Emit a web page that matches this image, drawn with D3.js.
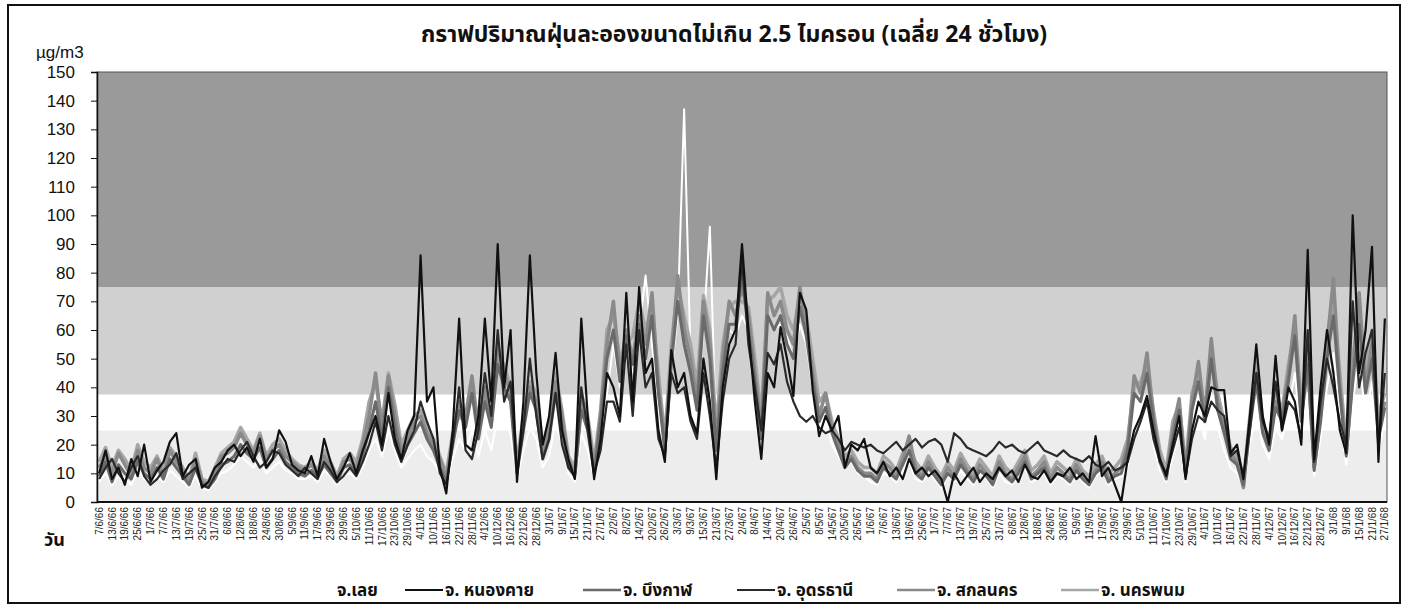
<!DOCTYPE html>
<html lang="th">
<head>
<meta charset="UTF-8">
<title>PM2.5 เฉลี่ย 24 ชั่วโมง</title>
<script src="https://cdn.jsdelivr.net/npm/d3@7"></script>
<style>
  body { margin: 0; background: #fff; }
  svg { display: block; font-family: "Noto Sans Thai", "Tahoma", "DejaVu Sans", sans-serif; }
</style>
</head>
<body>
<svg id="chart" width="1407" height="608"></svg>
<script>
// one point every 3 days starting 7 Jun 2023 (7/6/66)
const sampleStep = 3
const tickStep = 6

const tickLabels = [
  "7/6/66","13/6/66","19/6/66","25/6/66","1/7/66","7/7/66","13/7/66","19/7/66","25/7/66","31/7/66",
  "6/8/66","12/8/66","18/8/66","24/8/66","30/8/66","5/9/66","11/9/66","17/9/66","23/9/66","29/9/66",
  "5/10/66","11/10/66","17/10/66","23/10/66","29/10/66","4/11/66","10/11/66","16/11/66","22/11/66","28/11/66",
  "4/12/66","10/12/66","16/12/66","22/12/66","28/12/66","3/1/67","9/1/67","15/1/67","21/1/67","27/1/67",
  "2/2/67","8/2/67","14/2/67","20/2/67","26/2/67","3/3/67","9/3/67","15/3/67","21/3/67","27/3/67",
  "2/4/67","8/4/67","14/4/67","20/4/67","26/4/67","2/5/67","8/5/67","14/5/67","20/5/67","26/5/67",
  "1/6/67","7/6/67","13/6/67","19/6/67","25/6/67","1/7/67","7/7/67","13/7/67","19/7/67","25/7/67",
  "31/7/67","6/8/67","12/8/67","18/8/67","24/8/67","30/8/67","5/9/67","11/9/67","17/9/67","23/9/67",
  "29/9/67","5/10/67","11/10/67","17/10/67","23/10/67","29/10/67","4/11/67","10/11/67","16/11/67","22/11/67",
  "28/11/67","4/12/67","10/12/67","16/12/67","22/12/67","28/12/67","3/1/68","9/1/68","15/1/68","21/1/68",
  "27/1/68"
]

const yTicks = [0, 10, 20, 30, 40, 50, 60, 70, 80, 90, 100, 110, 120, 130, 140, 150]
const bandLimits = [0, 25, 37.5, 75, 150]

const provinces = ["จ.เลย", "จ. หนองคาย", "จ. บึงกาฬ", "จ. อุดรธานี", "จ. สกลนคร", "จ. นครพนม"]

const loei = [
  7,10,6,9,8,6,11,8,7,9, 7,11,9,7,5,9,5,4,7,10, 11,13,16,14,12,15,10,12,14,11, 10,8,8,9,7,11,9,6,9,10,
  8,12,18,22,16,25,18,12,15,18, 20,16,14,10,6,15,22,18,25,16, 25,18,30,28,24,8,18,26,22,12, 16,28,20,10,7,24,18,8,20,38,
  55,40,50,45,60,79,55,35,18,45, 65,137,50,30,60,96,20,45,60,58, 65,60,40,22,65,60,62,58,50,62, 55,40,25,30,20,16,12,14,10,9,
  7,6,10,9,7,11,14,8,7,10, 8,5,9,7,11,8,6,10,8,5, 10,7,6,9,12,7,8,10,6,9, 8,6,10,7,5,9,11,6,8,9,
  12,28,25,35,20,11,7,16,24,7, 24,32,22,38,26,18,12,10,5,20, 32,20,15,26,22,32,45,22,38,9, 22,40,52,30,13,35,50,30,42,18,28
]
const nongkhai = [
  10,18,8,12,6,15,9,20,7,11, 14,21,24,9,13,15,5,7,12,14, 18,20,16,19,14,22,12,15,25,21, 13,11,10,16,9,22,14,8,12,17,
  10,18,24,30,20,38,22,15,25,30, 86,35,40,12,3,25,64,20,18,30, 64,35,90,40,60,7,35,86,45,20, 30,52,25,15,8,64,30,8,22,45,
  40,30,73,35,75,45,50,25,14,53, 40,45,30,24,50,35,8,40,55,60, 90,60,35,15,45,40,61,50,37,73, 67,39,23,30,25,30,12,20,18,22,
  12,10,14,9,12,8,15,10,12,9, 11,8,0,10,6,9,12,7,10,8, 12,9,11,7,13,9,8,11,7,10, 9,12,8,10,7,23,9,12,6,0,
  15,25,30,37,25,15,9,20,30,8, 25,35,30,40,39,39,17,20,8,30, 55,30,20,51,25,40,35,20,88,15, 40,60,45,25,17,100,45,60,89,14,64
]
const buengkan = [
  9,14,7,13,10,8,14,10,8,12, 8,15,12,9,6,12,6,5,8,13, 14,16,20,17,15,19,12,15,18,14, 12,10,9,11,9,13,10,7,12,13,
  10,16,25,35,22,40,26,15,20,24, 28,22,18,12,7,20,32,26,38,22, 35,26,48,40,35,10,25,38,32,15, 22,38,26,12,9,32,25,10,28,50,
  60,42,58,48,62,50,65,38,18,48, 70,55,45,32,65,50,18,45,62,62, 80,60,42,22,65,60,65,55,50,68, 58,42,28,33,24,18,12,15,11,9,
  9,7,12,10,8,13,18,10,8,12, 9,6,10,8,13,10,7,11,9,6, 12,9,7,10,14,8,10,12,7,10, 9,7,11,8,6,10,12,7,9,10,
  18,38,35,45,28,14,8,22,32,9, 32,42,28,50,32,24,15,13,6,26, 42,24,18,33,28,42,58,28,48,11, 28,50,65,38,16,42,62,38,50,22,33
]
const udon = [
  8,12,15,10,7,12,16,9,6,8, 11,13,17,8,10,12,6,5,9,12, 15,14,18,21,16,12,14,18,17,13, 11,9,12,10,8,14,11,7,9,12,
  9,14,20,28,18,30,20,14,20,25, 35,28,22,10,6,20,40,18,15,25, 45,30,60,35,42,10,25,50,30,15, 22,38,20,12,9,40,25,10,18,35,
  35,28,55,30,60,40,45,22,16,45, 38,40,28,22,45,30,12,35,50,55, 85,55,40,25,52,48,55,42,35,30, 28,30,26,24,25,22,18,21,20,19,
  20,18,17,19,21,18,20,22,19,21, 22,20,14,24,22,19,18,17,16,18, 21,19,20,18,17,19,21,18,17,16, 18,16,15,14,16,13,12,14,11,12,
  14,22,28,35,22,14,10,18,26,9, 22,30,28,35,32,30,16,18,9,25, 45,28,22,42,25,35,32,22,60,14, 35,50,40,28,20,70,40,52,60,18,45
]
const sakon = [
  12,16,10,17,13,9,18,12,10,15, 9,18,14,11,7,15,7,6,10,16, 17,19,24,20,17,23,15,18,20,16, 14,12,11,13,10,16,12,8,14,15,
  12,20,30,45,25,44,30,18,22,28, 30,24,20,15,8,22,35,30,44,25, 40,28,55,45,38,12,28,40,35,18, 25,42,30,14,10,35,28,12,30,55,
  70,45,60,50,65,55,73,40,20,50, 79,60,50,35,70,55,20,50,70,65, 75,65,45,25,73,65,70,60,55,75, 60,45,30,38,25,20,14,16,12,10,
  10,8,14,12,9,15,23,12,9,14, 10,7,12,9,15,11,8,13,10,7, 14,10,8,12,16,9,11,14,8,12, 10,8,13,9,7,11,14,8,10,12,
  20,44,38,52,30,15,9,25,36,10, 35,49,30,57,35,25,17,14,5,28, 45,25,20,35,30,45,65,30,50,12, 30,55,78,40,17,45,73,40,55,25,35
]
const nakhonphanom = [
  14,19,12,18,15,11,20,14,12,16, 11,19,16,12,8,17,8,7,12,17, 19,21,26,22,18,24,16,20,22,18, 15,13,12,14,11,18,14,9,15,17,
  14,22,35,42,28,45,34,20,25,30, 32,26,22,16,10,24,30,28,40,28, 38,30,50,48,40,14,30,42,38,20, 28,45,32,16,12,38,30,14,32,60,
  65,50,55,58,70,60,68,45,22,55, 75,65,55,40,72,60,25,55,68,70, 70,68,50,30,70,72,75,65,60,72, 65,50,35,38,28,22,16,18,14,12,
  12,10,16,14,11,17,20,14,11,16, 12,9,14,11,17,13,10,15,12,9, 16,12,10,14,18,11,13,16,10,14, 12,10,15,11,9,13,16,10,12,15,
  22,40,42,48,32,18,11,28,34,12, 38,45,32,52,38,28,19,16,8,30, 50,28,22,38,32,48,60,35,55,15, 32,58,70,45,20,50,68,45,60,30,38
]

const seriesValues = [loei, nongkhai, buengkan, udon, sakon, nakhonphanom]
const lineColors = ["#ffffff", "#111111", "#6a6a6a", "#2a2a2a", "#8a8a8a", "#a6a6a6"]
const lineWidths = [2, 2.2, 3, 2.2, 3.5, 3.5]
const drawOrder = [0, 5, 4, 2, 3, 1]
const bandColors = ["#ededed", "#ffffff", "#d0d0d0", "#9a9a9a"]

const svg = d3.select("#chart")
const plot = { left: 97, right: 1387, top: 72, bottom: 502 }

const x = d3.scaleLinear()
  .domain([-1, (loei.length - 1) * sampleStep + 1])
  .range([plot.left, plot.right])
const y = d3.scaleLinear()
  .domain([0, 150])
  .range([plot.bottom, plot.top])

// outer frame
svg.append("rect")
  .attr("x", 8).attr("y", 5)
  .attr("width", 1392).attr("height", 598)
  .attr("fill", "#fff")
  .attr("stroke", "#111")
  .attr("stroke-width", 2)

// background bands
svg.append("g")
  .selectAll("rect")
  .data(d3.pairs(bandLimits))
  .join("rect")
  .attr("x", plot.left)
  .attr("width", plot.right - plot.left)
  .attr("y", d => y(d[1]))
  .attr("height", d => y(d[0]) - y(d[1]))
  .attr("fill", (d, i) => bandColors[i])

svg.append("rect")
  .attr("x", plot.left).attr("y", plot.top)
  .attr("width", plot.right - plot.left).attr("height", plot.bottom - plot.top)
  .attr("fill", "none")
  .attr("stroke", "#555")
  .attr("stroke-width", 1)

// lines
const line = d3.line()
  .x((d, i) => x(i * sampleStep))
  .y(d => y(d))

svg.append("g")
  .selectAll("path")
  .data(drawOrder)
  .join("path")
  .attr("d", s => line(seriesValues[s]))
  .attr("fill", "none")
  .attr("stroke", s => lineColors[s])
  .attr("stroke-width", s => lineWidths[s])
  .attr("stroke-linejoin", "round")

// y axis
const yAxis = svg.append("g")
  .attr("transform", `translate(${plot.left},0)`)
  .call(d3.axisLeft(y).tickValues(yTicks).tickSize(6).tickPadding(16))
yAxis.select(".domain").attr("stroke", "#111").attr("stroke-width", 1.5)
yAxis.selectAll(".tick line").attr("stroke", "#111")
yAxis.selectAll("text")
  .attr("font-family", "'Liberation Sans', Arial, sans-serif")
  .attr("font-size", 17)
  .attr("fill", "#111")

// x axis
svg.append("line")
  .attr("x1", plot.left).attr("x2", plot.right)
  .attr("y1", plot.bottom).attr("y2", plot.bottom)
  .attr("stroke", "#111")
  .attr("stroke-width", 2)

svg.append("g")
  .selectAll("text")
  .data(tickLabels)
  .join("text")
  .attr("transform", (d, i) => `translate(${x(i * tickStep) + 3.5},507) rotate(-90)`)
  .attr("text-anchor", "end")
  .attr("font-family", "'Liberation Sans', Arial, sans-serif")
  .attr("font-size", 10)
  .attr("fill", "#222")
  .text(d => d)

// titles
svg.append("text")
  .attr("x", 734).attr("y", 42)
  .attr("text-anchor", "middle")
  .attr("font-size", 23)
  .attr("font-weight", "bold")
  .attr("fill", "#111")
  .text("กราฟปริมาณฝุ่นละอองขนาดไม่เกิน 2.5 ไมครอน (เฉลี่ย 24 ชั่วโมง)")

svg.append("text")
  .attr("x", 36).attr("y", 58)
  .attr("font-family", "'Liberation Sans', Arial, sans-serif")
  .attr("font-size", 17)
  .attr("fill", "#111")
  .text("µg/m3")

svg.append("text")
  .attr("x", 44).attr("y", 546)
  .attr("font-size", 18)
  .attr("font-weight", "bold")
  .attr("fill", "#111")
  .text("วัน")

// legend
const legendLineX = [297, 405, 583, 737, 897, 1061]
const legend = svg.append("g")
  .selectAll("g")
  .data(provinces)
  .join("g")
  .attr("transform", (d, i) => `translate(${legendLineX[i]},590)`)
legend.append("line")
  .attr("x1", 0).attr("x2", 38)
  .attr("stroke", (d, i) => lineColors[i])
  .attr("stroke-width", (d, i) => Math.min(lineWidths[i], 2.5))
legend.append("text")
  .attr("x", 40).attr("y", 6)
  .attr("font-size", 17)
  .attr("font-weight", "bold")
  .attr("fill", "#111")
  .text(d => d)
</script>
</body>
</html>
